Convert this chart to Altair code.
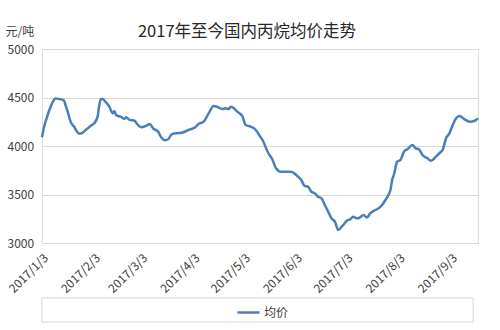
import altair as alt
import pandas as pd

# ---- data ----
dates = [
    "2017-01-03", "2017-01-04", "2017-01-06", "2017-01-09", "2017-01-11", "2017-01-13",
    "2017-01-16", "2017-01-17", "2017-01-18", "2017-01-20", "2017-01-22", "2017-01-25",
    "2017-01-26", "2017-01-29", "2017-02-01", "2017-02-03", "2017-02-05", "2017-02-06",
    "2017-02-07", "2017-02-08", "2017-02-10", "2017-02-12", "2017-02-14", "2017-02-15",
    "2017-02-16", "2017-02-19", "2017-02-21", "2017-02-22", "2017-02-24", "2017-02-27",
    "2017-03-01", "2017-03-03", "2017-03-06", "2017-03-08", "2017-03-10", "2017-03-13",
    "2017-03-15", "2017-03-17", "2017-03-19", "2017-03-21", "2017-03-23", "2017-03-27",
    "2017-03-31", "2017-04-04", "2017-04-06", "2017-04-09", "2017-04-12", "2017-04-15",
    "2017-04-17", "2017-04-20", "2017-04-22", "2017-04-24", "2017-04-25", "2017-04-26",
    "2017-04-29", "2017-05-02", "2017-05-04", "2017-05-07", "2017-05-10", "2017-05-12",
    "2017-05-14", "2017-05-17", "2017-05-20", "2017-05-22", "2017-05-25", "2017-05-31",
    "2017-06-03", "2017-06-06", "2017-06-08", "2017-06-10", "2017-06-12", "2017-06-14",
    "2017-06-16", "2017-06-18", "2017-06-20", "2017-06-22", "2017-06-24", "2017-06-26",
    "2017-06-28", "2017-06-30", "2017-07-01", "2017-07-03", "2017-07-05", "2017-07-07",
    "2017-07-09", "2017-07-11", "2017-07-13", "2017-07-15", "2017-07-17", "2017-07-20",
    "2017-07-22", "2017-07-24", "2017-07-26", "2017-07-28", "2017-07-29", "2017-07-30",
    "2017-07-31", "2017-08-02", "2017-08-04", "2017-08-06", "2017-08-08", "2017-08-11",
    "2017-08-13", "2017-08-15", "2017-08-17", "2017-08-20", "2017-08-22", "2017-08-25",
    "2017-08-27", "2017-08-29", "2017-08-31", "2017-09-02", "2017-09-04", "2017-09-06",
    "2017-09-08", "2017-09-11", "2017-09-14", "2017-09-17", "2017-09-19",
]
prices = [
    4090, 4180, 4300, 4440, 4490, 4485,
    4470, 4420, 4370, 4250, 4200, 4130,
    4130, 4165, 4210, 4234, 4300, 4420,
    4485, 4485, 4450, 4405, 4337, 4360,
    4320, 4300, 4278, 4296, 4270, 4260,
    4216, 4193, 4210, 4227, 4182, 4147,
    4085, 4060, 4070, 4120, 4130, 4137,
    4165, 4193, 4227, 4250, 4337, 4412,
    4405, 4381, 4388, 4381, 4405, 4400,
    4354, 4309, 4216, 4200, 4165, 4113,
    4062, 3941, 3856, 3770, 3735, 3735,
    3701, 3650, 3588, 3580, 3529, 3512,
    3477, 3460, 3392, 3323, 3254, 3220,
    3134, 3168, 3186, 3230, 3244, 3271,
    3254, 3265, 3289, 3262, 3306, 3340,
    3358, 3392, 3443, 3502, 3546, 3650,
    3701, 3838, 3856, 3941, 3966, 4010,
    3976, 3966, 3907, 3873, 3848, 3890,
    3925, 3959, 4079, 4130, 4216, 4285,
    4309, 4275, 4250, 4260, 4285,
]
series_name = "均价"
y_ticks = [3000, 3500, 4000, 4500, 5000]
x_tick_months = [1, 2, 3, 4, 5, 6, 7, 8, 9]
title_text = "2017年至今国内丙烷均价走势"
y_unit = "元/吨"

df = pd.DataFrame({"date": dates, "price": prices, "series": series_name})

FONT = "Noto Sans CJK SC"
LINE_COLOR = "#4a7ebb"
GRID = "#d9d9d9"
TEXT = "#404040"

x_enc = alt.X(
    "date:T",
    scale=alt.Scale(
        type="utc",
        domain=[alt.DateTime(year=2017, month=1, date=3, utc=True),
                alt.DateTime(year=2017, month=9, date=19, utc=True)],
    ),
    axis=alt.Axis(
        values=[alt.DateTime(year=2017, month=m, date=3, utc=True) for m in x_tick_months],
        labelExpr="utcFormat(datum.value, '%Y/%-m/%-d')",
        labelAngle=-45,
        labelAlign="right",
        labelBaseline="top",
        labelPadding=9,
        labelFontSize=12,
        labelColor=TEXT,
        labelFont=FONT,
        labelOverlap=False,
        grid=False,
        domain=False,
        ticks=False,
        title=None,
    ),
)

y_enc = alt.Y(
    "price:Q",
    scale=alt.Scale(domain=[3000, 5000], nice=False, zero=False),
    axis=alt.Axis(
        values=y_ticks,
        format="d",
        labelAlign="left",
        labelPadding=35,
        labelFontSize=12,
        labelColor=TEXT,
        labelFont=FONT,
        grid=True,
        gridColor=GRID,
        gridWidth=1,
        domain=False,
        ticks=False,
        title=y_unit,
        titleAngle=0,
        titleAlign="left",
        titleBaseline="bottom",
        titleX=-37,
        titleY=-11,
        titleFontSize=12,
        titleFontWeight="normal",
        titleColor=TEXT,
        titleFont=FONT,
    ),
)

legend_box = alt.Chart(df).mark_rect(
    fill="white", stroke="#e3e3e3", strokeWidth=1
).encode(
    x=alt.value(0), x2=alt.value(431), y=alt.value(249), y2=alt.value(273)
)

line = alt.Chart(df).mark_line(strokeWidth=2.5, interpolate="monotone").encode(
    x=x_enc,
    y=y_enc,
    color=alt.Color(
        "series:N",
        scale=alt.Scale(range=[LINE_COLOR]),
        legend=alt.Legend(
            title=None,
            orient="none",
            legendX=194,
            legendY=251,
            padding=0,
            symbolType="stroke",
            symbolSize=484,
            symbolStrokeWidth=2.5,
            labelFontSize=12,
            labelColor=TEXT,
            labelFont=FONT,
            labelOffset=3,
        ),
    ),
)

chart = alt.layer(legend_box, line).properties(
    width=436,
    height=194,
    autosize=alt.AutoSizeParams(type="none"),
    padding={"left": 42, "top": 49, "right": 22, "bottom": 87},
    title=alt.TitleParams(
        text=title_text,
        font=FONT,
        fontSize=16.5,
        fontWeight="normal",
        color="#262626",
        anchor="middle",
        frame="group",
        dx=-13,
        dy=45,
        offset=14,
        baseline="bottom",
    ),
).configure_view(stroke=None).configure(background="white")

chart.save("out.html", embed_options={"renderer": "svg", "actions": False})
